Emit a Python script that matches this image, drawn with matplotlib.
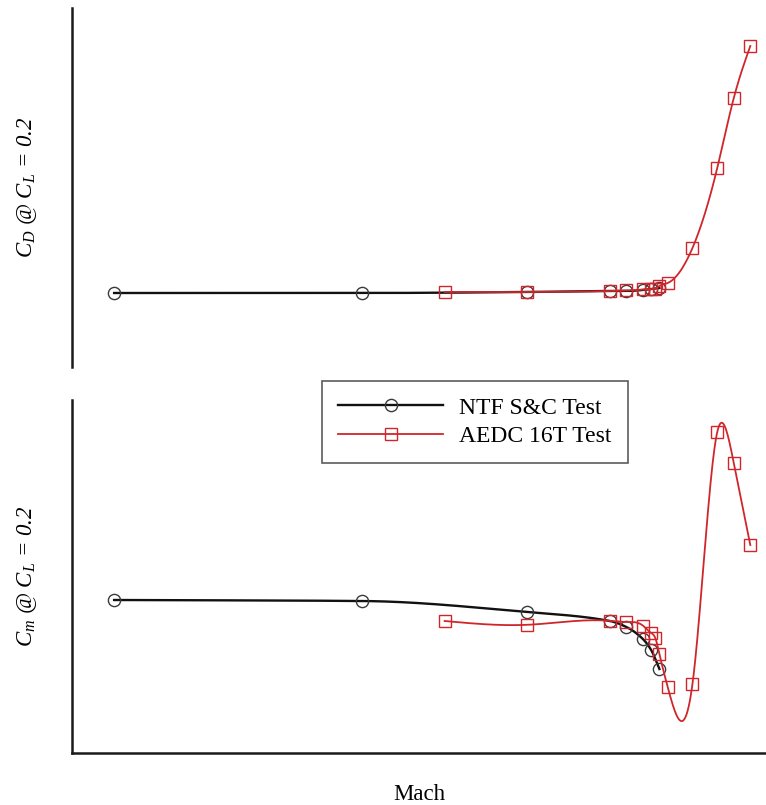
import numpy as np
import matplotlib
matplotlib.use("Agg")
import matplotlib.pyplot as plt
from matplotlib.lines import Line2D

# ---- data (arbitrary units, axes carry no ticks) ----
mach_ntf = [0.20, 0.50, 0.70, 0.80, 0.82, 0.84, 0.85, 0.86]
cd_ntf = [0.0199, 0.0199, 0.0200, 0.0201, 0.0201, 0.0202, 0.0203, 0.0204]
cm_ntf = [-0.0500, -0.0505, -0.0560, -0.0605, -0.0635, -0.0695, -0.0750, -0.0845]

mach_aedc = [0.60, 0.70, 0.80, 0.82, 0.84, 0.85, 0.855, 0.86, 0.87, 0.90, 0.93, 0.95, 0.97]
cd_aedc = [0.0200, 0.0200, 0.0201, 0.02015, 0.02025, 0.0203, 0.02035, 0.0206, 0.0209,
           0.0244, 0.0324, 0.0394, 0.0446]
cm_aedc = [-0.0605, -0.0624, -0.0604, -0.0610, -0.0628, -0.0665, -0.0690, -0.0770,
           -0.0935, -0.0920, 0.0340, 0.0185, -0.0225]

labels = ["NTF S&C Test", "AEDC 16T Test"]
xlabel = "Mach"


def natural_spline(x, y, n=600):
    x = np.asarray(x, float)
    y = np.asarray(y, float)
    k = len(x)
    h = np.diff(x)
    A = np.zeros((k, k))
    b = np.zeros(k)
    A[0, 0] = 1
    A[-1, -1] = 1
    for i in range(1, k - 1):
        A[i, i - 1] = h[i - 1]
        A[i, i] = 2 * (h[i - 1] + h[i])
        A[i, i + 1] = h[i]
        b[i] = 3 * ((y[i + 1] - y[i]) / h[i] - (y[i] - y[i - 1]) / h[i - 1])
    c = np.linalg.solve(A, b)
    xs = np.linspace(x[0], x[-1], n)
    idx = np.clip(np.searchsorted(x, xs) - 1, 0, k - 2)
    dx = xs - x[idx]
    bb = (y[idx + 1] - y[idx]) / h[idx] - h[idx] * (2 * c[idx] + c[idx + 1]) / 3
    dd = (c[idx + 1] - c[idx]) / (3 * h[idx])
    ys = y[idx] + bb * dx + c[idx] * dx ** 2 + dd * dx ** 3
    return xs, ys


def pchip(x, y, n=600):
    x = np.asarray(x, float)
    y = np.asarray(y, float)
    h = np.diff(x)
    delta = np.diff(y) / h
    k = len(x)
    d = np.zeros(k)
    for i in range(1, k - 1):
        if delta[i - 1] * delta[i] > 0:
            w1 = 2 * h[i] + h[i - 1]
            w2 = h[i] + 2 * h[i - 1]
            d[i] = (w1 + w2) / (w1 / delta[i - 1] + w2 / delta[i])
    d[0] = delta[0]
    d[-1] = delta[-1]
    xs = np.linspace(x[0], x[-1], n)
    idx = np.clip(np.searchsorted(x, xs) - 1, 0, k - 2)
    t = (xs - x[idx]) / h[idx]
    h00 = 2 * t ** 3 - 3 * t ** 2 + 1
    h10 = t ** 3 - 2 * t ** 2 + t
    h01 = -2 * t ** 3 + 3 * t ** 2
    h11 = t ** 3 - t ** 2
    ys = h00 * y[idx] + h10 * h[idx] * d[idx] + h01 * y[idx + 1] + h11 * h[idx] * d[idx + 1]
    return xs, ys


plt.rcParams["font.family"] = ["Liberation Serif", "DejaVu Serif"]
plt.rcParams["mathtext.fontset"] = "custom"
plt.rcParams["mathtext.rm"] = "Liberation Serif:italic"
plt.rcParams["mathtext.it"] = "Liberation Serif:italic"

W, H = 766, 805
fig = plt.figure(figsize=(W / 100, H / 100), dpi=100)

def ax_rect(x0, y0, x1, y1):
    return [x0 / W, 1 - y1 / H, (x1 - x0) / W, (y1 - y0) / H]

ax1 = fig.add_axes(ax_rect(72, 8, 766, 367))
ax2 = fig.add_axes(ax_rect(72, 400, 766, 753))

black = "#111111"
circ_edge = "#3a3a3a"
red = "#d0262b"

ms = 8.8
for ax, yn, ya in [(ax1, cd_ntf, cd_aedc), (ax2, cm_ntf, cm_aedc)]:
    xs, ys = pchip(mach_ntf, yn)
    ax.plot(xs, ys, color=black, lw=1.7, zorder=2)
    ax.plot(mach_ntf, yn, ls="none", marker="o", ms=ms, mfc="none",
            mec=circ_edge, mew=1.0, zorder=3)
    xs, ys = natural_spline(mach_aedc, ya)
    ax.plot(xs, ys, color=red, lw=1.3, zorder=4)
    ax.plot(mach_aedc, ya, ls="none", marker="s", ms=ms, mfc="none",
            mec=red, mew=1.0, zorder=5)
    ax.set_xlim(0.149, 0.989)
    ax.set_xticks([])
    ax.set_yticks([])
    ax.spines["top"].set_visible(False)
    ax.spines["right"].set_visible(False)
    ax.spines["left"].set_linewidth(1.8)
    ax.spines["left"].set_color("#1a1a1a")
    ax.patch.set_alpha(0)

ax1.spines["bottom"].set_visible(False)
ax1.set_ylim(0.0125, 0.0484)
ax2.set_ylim(-0.1265, 0.0500)
ax2.spines["bottom"].set_linewidth(1.8)
ax2.spines["bottom"].set_color("#1a1a1a")

ax1.set_ylabel(r"$C_D$ @ $C_L$ = 0.2", fontsize=16.5, fontstyle="italic", labelpad=24)
ax2.set_ylabel(r"$C_m$ @ $C_L$ = 0.2", fontsize=16.5, fontstyle="italic", labelpad=24)
ax2.set_xlabel(xlabel, fontsize=16.5, labelpad=22)

handles = [
    Line2D([], [], color=black, lw=1.7, marker="o", ms=ms, mfc="none", mec=circ_edge, mew=1.0),
    Line2D([], [], color=red, lw=1.3, marker="s", ms=ms, mfc="none", mec=red, mew=1.0),
]
leg = fig.legend(handles, labels, loc="upper left",
                 bbox_to_anchor=(322 / W, 1 - 381 / H),
                 fontsize=17, frameon=True, fancybox=False, handlelength=4.45,
                 handletextpad=0.68, borderpad=0.68, labelspacing=0.3,
                 borderaxespad=0)
leg.get_frame().set_edgecolor("#333333")
leg.get_frame().set_linewidth(1.2)

fig.savefig("out.png", dpi=100)
